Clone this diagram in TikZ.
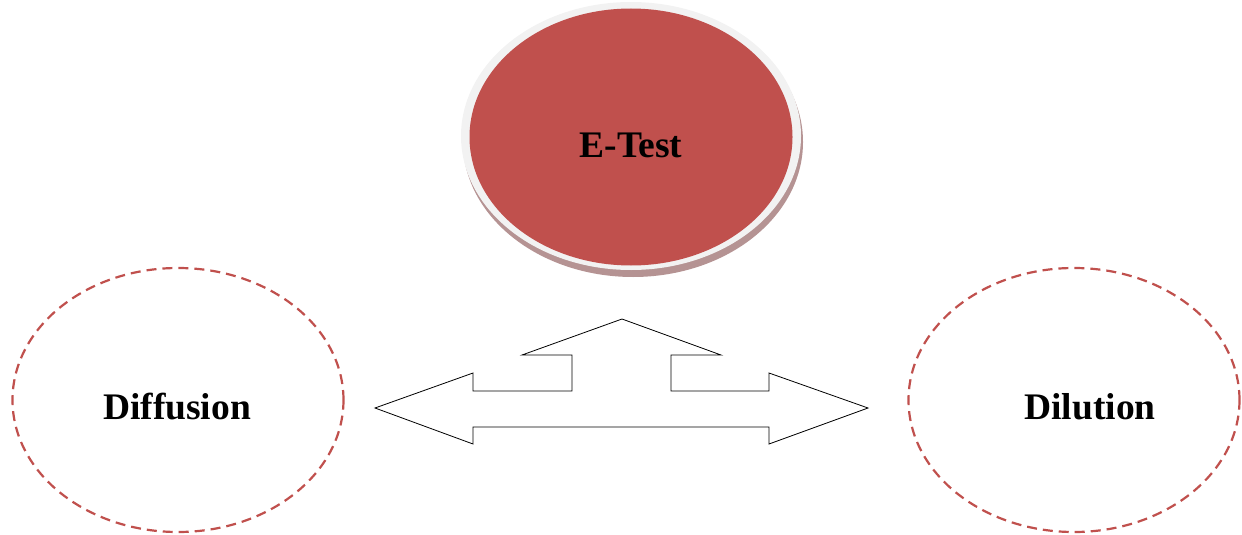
\documentclass[tikz,border=0pt]{standalone}
\usepackage{fontspec}
\setmainfont{Liberation Serif}
\usetikzlibrary{shapes.geometric}
\definecolor{etred}{HTML}{C0504D}
\definecolor{ringgray}{HTML}{F2F2F2}
\definecolor{shadowc}{HTML}{B59393}
\tikzset{
  lbl/.style={font=\bfseries\fontsize{37.5}{44}\selectfont},
  dashell/.style={draw=etred, line width=2.2pt, dash pattern=on 10pt off 6pt, ellipse, minimum width=331pt, minimum height=264pt, inner sep=0pt},
}
\begin{document}
\begin{tikzpicture}[x=1pt,y=-1pt]
\useasboundingbox (0,0) rectangle (1242,535);
% E-Test shadow, ring, body
\fill[shadowc] (633,142) ellipse [x radius=170, y radius=135];
\fill[ringgray] (631,136) ellipse [x radius=170, y radius=134];
\node[ellipse, fill=etred, minimum width=323pt, minimum height=257pt, inner sep=0pt] (etest) at (631,137) {};
\node[lbl] (etestlbl) at (631,145) {E-Test};
% dashed ellipses
\node[dashell] (diff) at (178,400) {};
\node[lbl] (difflbl) at (177,407) {Diffusion};
\node[dashell] (dil) at (1074,400) {};
\node[lbl] (dillbl) at (1090,407) {Dilution};
% three-way arrow
\draw[line width=0.8pt, fill=white, line join=miter]
 (375,408) -- (473,373) -- (473,391) -- (572,391) -- (572,355) -- (522,355)
 -- (622,319) -- (721,355) -- (671,355) -- (671,391) -- (769,391) -- (769,373)
 -- (868,408) -- (769,444) -- (769,427) -- (473,427) -- (473,444) -- cycle;
\end{tikzpicture}
\end{document}
